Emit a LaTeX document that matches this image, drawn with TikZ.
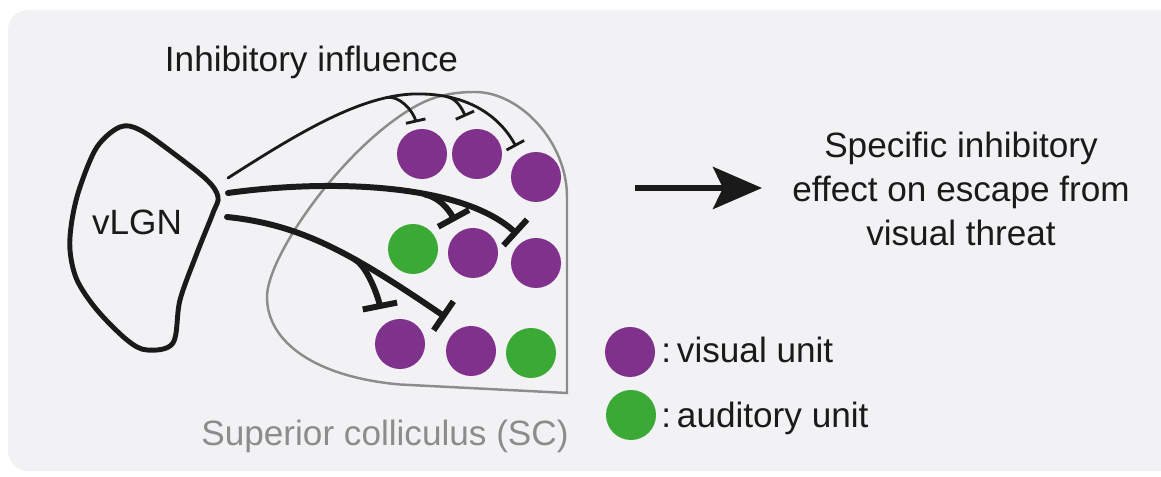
\documentclass[tikz,border=0pt]{standalone}
\usepackage{fontspec}
\setmainfont{Liberation Sans}
\usetikzlibrary{arrows.meta}
\definecolor{panelgray}{RGB}{242,242,244}
\definecolor{unitpurple}{RGB}{127,49,139}
\definecolor{unitgreen}{RGB}{58,169,54}
\definecolor{scgray}{RGB}{140,140,140}
\definecolor{inkblack}{RGB}{26,26,26}
\tikzset{
  lab/.style={font=\fontsize{20}{25}\selectfont, text=inkblack, inner sep=0pt},
  sclab/.style={lab, text=scgray},
  visual/.style={circle, fill=unitpurple, minimum size=10mm, inner sep=0pt},
  auditory/.style={visual, fill=unitgreen},
  region/.style={draw=inkblack, line width=2.8pt},
  scoutline/.style={draw=scgray, line width=1.4pt},
  inhib/.style={draw=inkblack, line width=1.6pt, line cap=round, -{Bar[width=4mm]}},
  inhibthick/.style={draw=inkblack, line width=3.4pt, line cap=round, -{Bar[width=7mm]}},
  flow/.style={-{Stealth[length=9.8mm,width=8.4mm,inset=2mm]}, line width=3.4pt, draw=inkblack},
}

\begin{document}
\begin{tikzpicture}[x=1cm,y=1cm]
  \path[use as bounding box] (0,0) rectangle (23.22,9.54);
  \fill[panelgray, rounded corners=4mm] (0.16,0.12) rectangle (23.8,9.34);

  \node[lab, anchor=base] (title) at (6.23,8.11) {Inhibitory influence};

  % vLGN outline
  \draw[region] plot[smooth cycle, tension=0.55] coordinates {
    (2.40,7.00) (2.80,6.94) (3.46,6.48) (4.14,5.94) (4.36,5.60) (4.26,5.28)
    (3.94,4.48) (3.60,3.54) (3.46,2.68) (2.94,2.54) (2.54,2.74) (1.94,3.34)
    (1.54,3.94) (1.40,4.54) (1.44,5.14) (1.60,5.80) (1.94,6.60)};
  \node[lab, anchor=base] (vlgn) at (2.74,4.84) {vLGN};

  % superior colliculus outline
  \draw[scoutline] (11.34,1.68) -- (11.34,5.6)
    .. controls (11.34,6.7) and (10.4,7.70) .. (9.5,7.70)
    .. controls (9.0,7.70) and (8.6,7.6) .. (8.2,7.35)
    .. controls (6.8,6.5) and (5.34,4.4) .. (5.34,3.6)
    .. controls (5.34,2.7) and (6.3,2.0) .. (8.0,1.85) -- cycle;
  \node[sclab, anchor=base] (sclabel) at (7.70,0.62) {Superior colliculus (SC)};

  % units
  \node[visual]   (v1) at (8.44,6.46) {};
  \node[visual]   (v2) at (9.54,6.46) {};
  \node[visual]   (v3) at (10.72,6.00) {};
  \node[auditory] (a1) at (8.26,4.56) {};
  \node[visual]   (v4) at (9.46,4.48) {};
  \node[visual]   (v5) at (10.72,4.28) {};
  \node[visual]   (v6) at (8.00,2.66) {};
  \node[visual]   (v7) at (9.42,2.52) {};
  \node[auditory] (a2) at (10.62,2.48) {};

  % projections leave vLGN here and stop at the bars
  \coordinate (o1) at (4.56,5.98);
  \coordinate (o2) at (4.56,5.68);
  \coordinate (o3) at (4.54,5.20);
  \coordinate (t1) at (8.32,7.09);
  \coordinate (t2) at (9.31,7.21);
  \coordinate (t3) at (10.32,6.61);
  \coordinate (t4) at (9.10,5.12);
  \coordinate (t5) at (10.35,4.85);
  \coordinate (t6) at (7.61,3.36);
  \coordinate (t7) at (8.92,3.19);

  \draw[inhib] (o1) .. controls (6.0,6.9) and (7.3,7.7) .. (8.44,7.66) coordinate[pos=0.8] (b1)
    .. controls (9.4,7.64) and (10.0,7.2) .. (t3) coordinate[pos=0.18] (b2);
  \draw[inhib] (b1) .. controls +(0.25,0.05) and +(-0.05,0.22) .. (t1);
  \draw[inhib] (b2) .. controls +(0.2,-0.04) and +(-0.08,0.18) .. (t2);

  \draw[inhibthick] (o2) .. controls (6.5,5.95) and (9.2,5.9) .. (t5) coordinate[pos=0.62] (b4);
  \draw[inhibthick] (b4) .. controls +(0.3,-0.06) and +(-0.12,0.22) .. (t4);

  \draw[inhibthick] (o3) .. controls (6.0,5.05) and (7.0,4.5) .. (t7) coordinate[pos=0.63] (b6);
  \draw[inhibthick] (b6) .. controls +(0.25,-0.14) and +(-0.05,0.25) .. (t6);

  % outcome
  \coordinate (effS) at (12.70,5.78);
  \coordinate (effE) at (15.24,5.78);
  \draw[flow] (effS) -- (effE);
  \node[lab, align=center] (effect) at (19.22,5.76)
    {Specific inhibitory\\effect on escape from\\visual threat};

  % legend
  \node[visual]   (legv) at (12.60,2.50) {};
  \node[auditory] (lega) at (12.62,1.24) {};
  \node[lab, anchor=base west] (legvtext) at (13.22,2.28) {:\,visual unit};
  \node[lab, anchor=base west] (legatext) at (13.22,0.98) {:\,auditory unit};
\end{tikzpicture}
\end{document}
